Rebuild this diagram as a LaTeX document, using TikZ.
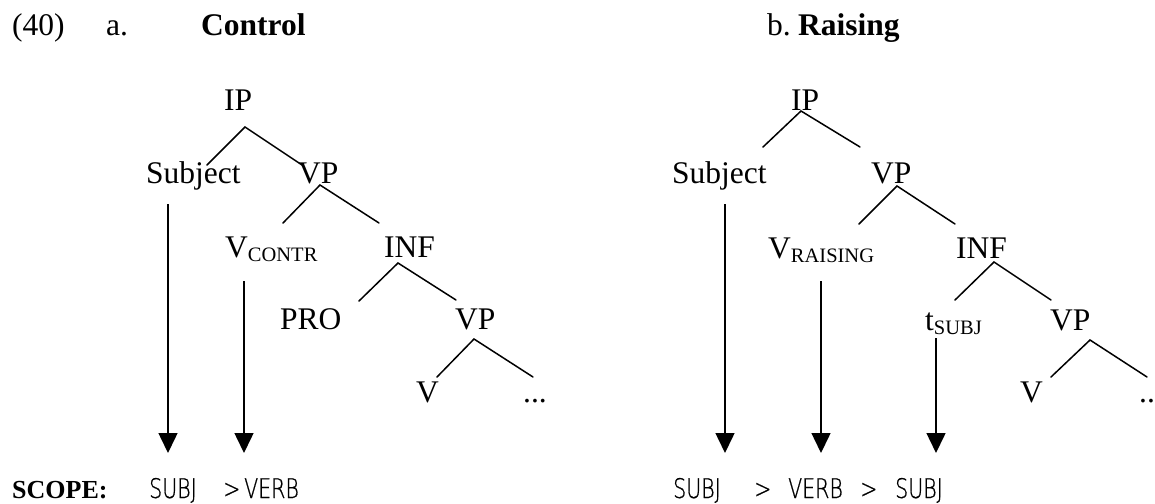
\documentclass[tikz,border=0pt]{standalone}
\usepackage{fontspec}
\setmainfont{Liberation Serif}
\newfontfamily\scopefont[FakeStretch=0.76,FakeBold=0.6]{DejaVu Sans ExtraLight}
\usetikzlibrary{arrows.meta}
\newcommand{\subsc}[1]{\raisebox{-4pt}{\fontsize{20.5}{24}\selectfont #1}}
\begin{document}
\begin{tikzpicture}[x=1pt,y=-1pt,
  lbl/.style={anchor=base west, inner sep=0pt, font=\fontsize{31.5}{36}\selectfont},
  headb/.style={lbl, font=\fontsize{31.5}{36}\selectfont\bfseries},
  scopetxt/.style={anchor=base west, inner sep=0pt, text depth=0pt, font=\fontsize{27}{30}\scopefont},
  scopehead/.style={anchor=base west, inner sep=0pt, text depth=0pt, font=\fontsize{26}{30}\selectfont\bfseries},
  branch/.style={line width=1.5pt, line cap=round},
  scopearrow/.style={line width=1.5pt, -{Triangle[width=19pt,length=20pt]}},
]
\useasboundingbox (0,0) rectangle (1155,503);

% headings
\node[lbl]   (num)  at (12,36)  {(40)};
\node[lbl]   (ahd)  at (106,36) {a.};
\node[headb] (ctl)  at (201,36) {Control};
\node[lbl]   (bhd)  at (767,36) {b.};
\node[headb] (rsg)  at (798,36) {Raising};

% ---------- (a) Control ----------
\node[lbl] (aIP)   at (224,110) {IP};
\node[lbl] (aSubj) at (146,183) {Subject};
\node[lbl] (aVP)   at (298,183) {VP};
\node[lbl] (aV)    at (225,257) {V\subsc{CONTR}};
\node[lbl] (aINF)  at (384,257) {INF};
\node[lbl] (aPRO)  at (280,329) {PRO};
\node[lbl] (aVPb)  at (455,329) {VP};
\node[lbl] (aVb)   at (416,402) {V};
\node[lbl] (aDots) at (523,402) {...};

\coordinate (aIPt)  at (245,127);
\coordinate (aIPl)  at (207,165);
\coordinate (aIPr)  at (302,165);
\coordinate (aVPt)  at (320,185);
\coordinate (aVPl)  at (283,223);
\coordinate (aVPr)  at (379,223);
\coordinate (aINFt) at (398,263);
\coordinate (aINFl) at (359,301);
\coordinate (aINFr) at (456,300);
\coordinate (aVbt)  at (474,339);
\coordinate (aVbl)  at (437,377);
\coordinate (aVbr)  at (533,377);

\draw[branch] (aIPl) -- (aIPt) -- (aIPr);
\draw[branch] (aVPl) -- (aVPt) -- (aVPr);
\draw[branch] (aINFl) -- (aINFt) -- (aINFr);
\draw[branch] (aVbl) -- (aVbt) -- (aVbr);

\coordinate (aS1) at (168,204);
\coordinate (aE1) at (168,453);
\coordinate (aS2) at (244,281);
\coordinate (aE2) at (244,453);
\draw[scopearrow] (aS1) -- (aE1);
\draw[scopearrow] (aS2) -- (aE2);

\node[scopehead] (scp) at (12,498) {SCOPE:};
\node[scopetxt] (aw1) at (149,498) {SUBJ};
\node[scopetxt] (aw2) at (223,498) {>};
\node[scopetxt] (aw3) at (244,498) {VERB};

% ---------- (b) Raising ----------
\node[lbl] (bIP)   at (791,110) {IP};
\node[lbl] (bSubj) at (672,183) {Subject};
\node[lbl] (bVP)   at (871,183) {VP};
\node[lbl] (bV)    at (768,258) {V\subsc{RAISING}};
\node[lbl] (bINF)  at (956,258) {INF};
\node[lbl] (bt)    at (925,330) {t\subsc{SUBJ}};
\node[lbl] (bVPb)  at (1050,330) {VP};
\node[lbl] (bVb)   at (1020,402) {V};
\node[lbl] (bDots) at (1139,402) {..};

\coordinate (bIPt)  at (801,111);
\coordinate (bIPl)  at (763,147);
\coordinate (bIPr)  at (860,147);
\coordinate (bVPt)  at (897,186);
\coordinate (bVPl)  at (859,224);
\coordinate (bVPr)  at (955,224);
\coordinate (bINFt) at (994,262);
\coordinate (bINFl) at (955,300);
\coordinate (bINFr) at (1051,300);
\coordinate (bVbt)  at (1090,340);
\coordinate (bVbl)  at (1051,377);
\coordinate (bVbr)  at (1147,377);

\draw[branch] (bIPl) -- (bIPt) -- (bIPr);
\draw[branch] (bVPl) -- (bVPt) -- (bVPr);
\draw[branch] (bINFl) -- (bINFt) -- (bINFr);
\draw[branch] (bVbl) -- (bVbt) -- (bVbr);

\coordinate (bS1) at (725,204);
\coordinate (bE1) at (725,453);
\coordinate (bS2) at (821,281);
\coordinate (bE2) at (821,453);
\coordinate (bS3) at (936,338);
\coordinate (bE3) at (936,453);
\draw[scopearrow] (bS1) -- (bE1);
\draw[scopearrow] (bS2) -- (bE2);
\draw[scopearrow] (bS3) -- (bE3);

\node[scopetxt] (bw1) at (673,498) {SUBJ};
\node[scopetxt] (bw2) at (754,498) {>};
\node[scopetxt] (bw3) at (788,498) {VERB};
\node[scopetxt] (bw4) at (860,498) {>};
\node[scopetxt] (bw5) at (895,498) {SUBJ};
\end{tikzpicture}
\end{document}
